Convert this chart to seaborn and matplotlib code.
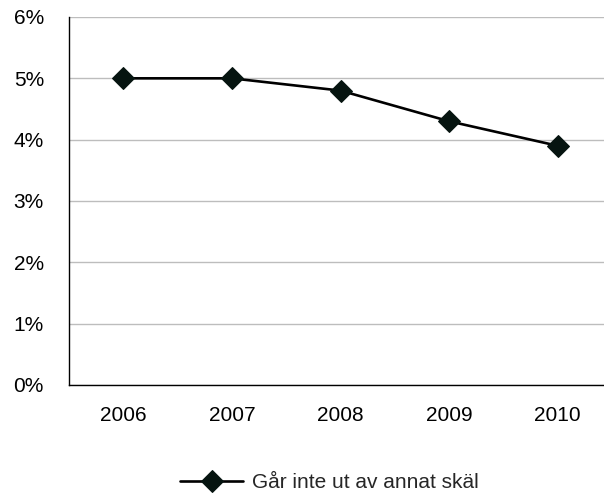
import pandas as pd
import numpy as np
import matplotlib
matplotlib.use("Agg")
import matplotlib.pyplot as plt
import seaborn as sns
from matplotlib.ticker import PercentFormatter, FixedLocator

# Data
years = ["2006", "2007", "2008", "2009", "2010"]
share = [5.0, 5.0, 4.8, 4.3, 3.9]   # percent
series_name = "Går inte ut av annat skäl"

df = pd.DataFrame({"year": years, "share": share})

sns.set_style("white")
plt.rcParams["font.family"] = ["Liberation Sans", "DejaVu Sans"]

fig = plt.figure(figsize=(6.04, 4.96), dpi=100)
ax = fig.add_axes([69 / 604, 111 / 496, 543 / 604, 368 / 496])

sns.lineplot(data=df, x="year", y="share", ax=ax, sort=False,
             color="black", linewidth=1.9, marker="D", markersize=11,
             markerfacecolor="#061410", markeredgecolor="#061410",
             label=series_name)

ax.set_xlim(-0.5, len(years) - 0.5)
ax.set_ylim(0, 6)
ax.set_yticks(np.arange(0, 7, 1))
ax.yaxis.set_major_formatter(PercentFormatter(decimals=0))
ax.grid(axis="y", color="#bdbdbd", linewidth=1)
ax.set_axisbelow(True)

ax.set_xlabel("")
ax.set_ylabel("")

for s in ["top", "right"]:
    ax.spines[s].set_visible(False)
for s in ["left", "bottom"]:
    ax.spines[s].set_color("black")
    ax.spines[s].set_linewidth(1)

# y ticks: grey marks to the left of the axis
ax.tick_params(axis="y", length=10, width=1, color="#bdbdbd", pad=8,
               labelsize=15, labelcolor="black")
# x: labels at centres, grey tick marks between categories
ax.tick_params(axis="x", which="major", length=0, pad=15, labelsize=15,
               labelcolor="black")
ax.xaxis.set_minor_locator(FixedLocator(np.arange(-0.5, len(years), 1)))
ax.tick_params(axis="x", which="minor", length=11, width=1, color="#bdbdbd")

leg = ax.legend(loc="center", bbox_to_anchor=(0.48, -0.266), frameon=False,
                fontsize=15, handlelength=3.0, handletextpad=0.45)

fig.savefig("out.png", dpi=100)
